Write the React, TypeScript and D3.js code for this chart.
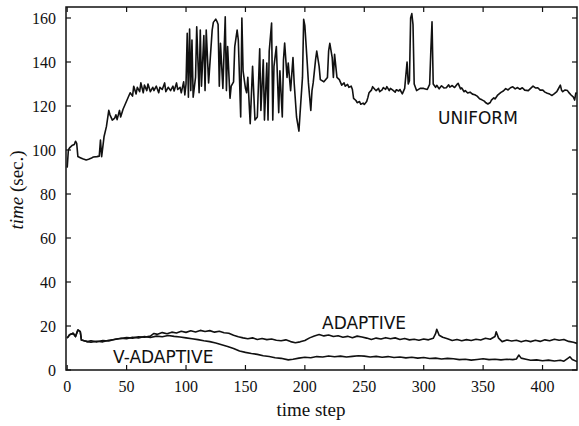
import React from "react";
import * as d3 from "d3";

const xTicks = [0, 50, 100, 150, 200, 250, 300, 350, 400];
const yTicks = [0, 20, 40, 60, 80, 100, 120, 140, 160];

// [time step, seconds]
const uniformPoints: [number, number][] = [
  [0,92],[1,100],[2,101],[4,102],[6,102.5],[7,104],[8,103],[9,97],[11,96.5],[13,96],[16,95.5],[18,95.8],[20,96.2],[22,96.8],[25,97],[27,97.2],[28,104.5],[29,97],[31,106],[33,110.6],[35,118],[36,116],[38,113.6],[40,114.5],[41,116],[42,113.8],[44,118],[45,115],[47,118.5],[49,121],[51,123.5],[53,126],[55,124.5],[56,129],[58,125.5],[59,128.5],[61,126.5],[62,130.5],[64,126],[65,129.5],[67,127],[68,130],[70,126.5],[72,128.5],[73,127],[75,129],[77,126],[78,128.5],[80,127.5],[82,130.5],[83,126.5],[85,128.5],[87,127],[89,129],[90,126.8],[92,130.5],[93,127.5],[95,128.5],[96,126],[98,131],[99,125],[100,130],
  [101,153],[102,124],[103,155],[104,127],[105,150],[106,124],[108,133],[109,156],[111,126],[112,154.5],[113,129],[115,152],[116,127],[117,154.5],[119,130.5],[122,154.5],[123,158],[125,159.5],[126,158.5],[127,157],[128,129],[129,148.5],[131,128],[133,160.5],[134,127],[135,147],[137,123.5],[138,129],[140,131],[141,147],[143,154.5],[144,150],[146,115],[147,160],[148,136],[150,128],[151,126],[152,133],[154,112],[156,138],[158,113.6],[160,115],[162,146],[163,118],[165,141],[166,113.6],[168,139.5],[169,113.6],[170,145],[172,157.7],[173,113.6],[174,138],[176,147],[178,117],[179,136],[181,115],[182,141],[183,148.6],[185,133],[186,139.5],[188,127],[190,142],[191,130.5],[193,115],[195,108.6],[196,117],[198,133],[199,159.4],[200,156.5],[202,139.5],[203,130.5],[205,118],[206,127],[207,130.5],[209,141],[210,145],[212,138],[213,132],[216,131],[219,133],[220,145],[221,148.5],[223,142],[224,133],[225,143.5],[227,133],
  [229,132],[231,129.5],[233,130.5],[234,129],[236,129.8],[237,128.5],[239,129],[240,127.5],[241,123.5],[243,122.5],[244,121.5],[246,122],[247,120.8],[249,121.3],[250,120.7],[252,122],[253,123.8],[254,126],[256,127.2],[257,128.8],[259,127.5],[260,127],[262,128],[263,126.5],[265,127.3],[266,128.4],[268,127.6],[269,128.8],[271,127],[272,128],[274,127.2],[276,126.3],[277,127.4],[279,126.8],[280,127.5],[282,125.5],[284,128],
  [286,140],[287,130],[288,131.5],[289,160],[290,162],[291,157],[292,130],[294,127],[297,128],[300,128],[303,127.5],[305,129.8],[306,145],[307,158.3],[308,130],
  [310,128.5],[311,129.4],[313,127.8],[315,129.2],[317,128.2],[319,128.3],[321,129.6],[322,128.6],[324,129.3],[326,128.4],[328,129.8],[329,130.3],[331,127.8],[332,128.2],[334,126.5],[335,127],[337,125.9],[339,126.3],[341,125.4],[343,125.1],[345,124.5],[347,123.3],[349,122.8],[351,122.2],[352,121.6],[354,120.9],[356,121.6],[357,122.7],[359,123.7],[360,123.2],[362,124.8],[363,125.3],[365,126.2],[367,126.8],[369,127.9],[371,127.3],[373,128.3],[375,128.7],[377,127.8],[379,128.4],[381,127.6],[383,128.3],[385,127.2],[388,127],[390,128],[392,129],[394,128.2],[396,128.3],[398,127.2],[400,127.3],[402,126.3],[404,125.8],[406,125.4],[408,124.8],[410,125.6],[412,126.5],[413,127.5],[415,129.5],[416,127.2],[417,126.5],[419,127.3],[421,127],[422,126.2],[424,125],[426,124],[427,122.7],[428,125.9],[429,125.7]
];

const adaptivePoints: [number, number][] = [
  [0,14.5],[2,16],[5,16.7],[7,15.2],[9,18.2],[11,17.4],[12,13.6],[15,13.2],[17,12.9],[20,13.3],[25,12.8],[30,13.4],[35,13.2],[40,14],[45,14.3],[50,14.8],[55,14.5],[60,15.1],[65,14.9],[70,15.4],[73,16.6],[76,16.2],[80,17],[84,16.5],[88,17.2],[92,16.8],[96,17.6],[100,17.1],[104,17.8],[108,17.3],[112,18],[116,17.5],[120,17.9],[124,17.2],[128,17.6],[132,16.9],[136,16.7],[140,15.8],[144,15.1],[148,14.6],[152,14.2],[156,14.6],[160,13.9],[164,14.3],[168,13.8],[172,14.1],[176,13.5],[180,13.3],[184,13.7],[188,12.9],[192,12.4],[196,12.8],[200,13.4],[204,14.6],[208,15.5],[212,16.1],[216,15.5],[220,15.9],[224,15.2],[228,15.6],[232,14.9],[236,15.3],[240,14.7],[244,15.4],[248,15],[252,14.5],[256,13.9],[260,14.5],[264,14.1],[268,14.7],[272,14.2],[276,14.6],[280,13.9],[284,14.3],[288,13.7],[292,14],[296,13.5],[300,14.1],[304,13.7],[308,14.4],[310,16.5],[311,18.5],[313,15.8],[316,14.9],[320,14.2],[324,13.4],[328,13.9],[332,13.3],[336,13.8],[340,13.4],[344,14],[348,13.6],[352,14.4],[356,14],[360,15.2],[361,17.4],[363,14.5],[366,12.9],[370,13.6],[374,13.2],[378,13.5],[382,12.8],[386,13.4],[390,12.9],[394,13.5],[398,13],[402,13.7],[406,13.3],[410,14],[414,13.5],[418,13.9],[422,13],[426,12.6],[429,12.1]
];

const vAdaptivePoints: [number, number][] = [
  [0,14.5],[2,16],[5,16.7],[7,15.2],[9,18.2],[11,17.4],[12,13.6],[15,13.2],[17,12.9],[20,12.6],[25,13.1],[30,12.8],[35,13.5],[40,13.9],[45,14.4],[50,14.2],[55,14.9],[60,14.6],[65,15.2],[70,14.8],[75,15.4],[80,15.1],[85,15.7],[90,15.3],[95,15],[100,14.6],[105,14.2],[110,13.8],[115,13.3],[120,12.9],[125,12.3],[130,11.5],[135,10.7],[140,9.8],[145,8.6],[150,8],[155,7.5],[160,7.1],[165,6.5],[170,6.1],[175,5.6],[180,5.3],[186,4.6],[190,4.9],[195,5.4],[200,5.8],[205,5.6],[210,6.1],[215,5.9],[220,6.4],[225,6],[230,6.3],[235,5.9],[240,6.2],[245,6.5],[250,6.3],[255,5.9],[260,6.2],[265,5.8],[270,6.1],[275,5.7],[280,5.9],[285,5.5],[290,5.8],[295,5.4],[300,5.7],[305,5.2],[310,5.4],[315,5],[320,5.3],[325,5.1],[330,4.7],[335,4.9],[340,4.5],[345,4.8],[350,5.1],[355,4.7],[360,4.9],[365,4.6],[370,4.9],[375,4.7],[378,5],[380,6.8],[382,5.4],[386,4.9],[390,4.4],[395,4.6],[400,4.2],[405,4.5],[410,4.1],[415,4.4],[418,4],[421,5.2],[423,6],[425,4.8],[429,3.8]
];

const seriesLabels = ["UNIFORM", "ADAPTIVE", "V-ADAPTIVE"];

export default function App() {
  const W = 579, H = 426;
  const left = 66, right = 577, top = 7, bottom = 370;
  const x = d3.scaleLinear().domain([-1, 429]).range([left, right]);
  const y = d3.scaleLinear().domain([0, 165]).range([bottom, top]);
  const line = d3.line<[number, number]>().x(d => x(d[0])).y(d => y(d[1]));
  const series = [uniformPoints, adaptivePoints, vAdaptivePoints];
  const serif = "'Liberation Serif', 'DejaVu Serif', serif";
  const sans = "'DejaVu Sans', sans-serif";
  const tl = 5;
  return (
    <svg width={W} height={H} style={{ position: "absolute", left: 0, top: 0, background: "#fff" }}>
      <rect x={0} y={0} width={W} height={H} fill="#fff" />
      {series.map((d, i) => (
        <path key={i} d={line(d) || ""} fill="none" stroke="#111" strokeWidth={1.6} strokeLinejoin="round" />
      ))}
      <rect x={left} y={top} width={right - left} height={bottom - top} fill="none" stroke="#111" strokeWidth={1.5} />
      {xTicks.map(t => (
        <g key={"x" + t}>
          <line x1={x(t)} x2={x(t)} y1={bottom} y2={bottom - tl} stroke="#111" strokeWidth={1.2} />
          <line x1={x(t)} x2={x(t)} y1={top} y2={top + tl} stroke="#111" strokeWidth={1.2} />
          <text x={x(t)} y={392} textAnchor="middle" fontFamily={serif} fontSize={16} fill="#111">{t}</text>
        </g>
      ))}
      {yTicks.map(t => (
        <g key={"y" + t}>
          <line x1={left} x2={left + tl} y1={y(t)} y2={y(t)} stroke="#111" strokeWidth={1.2} />
          <line x1={right} x2={right - tl} y1={y(t)} y2={y(t)} stroke="#111" strokeWidth={1.2} />
          <text x={56} y={y(t)} dy="0.35em" textAnchor="end" fontFamily={serif} fontSize={16} fill="#111">{t}</text>
        </g>
      ))}
      <text x={311} y={416} textAnchor="middle" fontFamily={serif} fontSize={19} fill="#111">time step</text>
      <text transform="translate(23,190) rotate(-90)" textAnchor="middle" fontFamily={serif} fontSize={19} fill="#111">
        <tspan fontStyle="italic">time</tspan> (sec.)
      </text>
      <text x={438} y={124} fontFamily={sans} fontSize={17} fill="#111">{seriesLabels[0]}</text>
      <text x={322} y={329} fontFamily={sans} fontSize={17} fill="#111">{seriesLabels[1]}</text>
      <text x={113} y={363} fontFamily={sans} fontSize={17} fill="#111">{seriesLabels[2]}</text>
    </svg>
  );
}
